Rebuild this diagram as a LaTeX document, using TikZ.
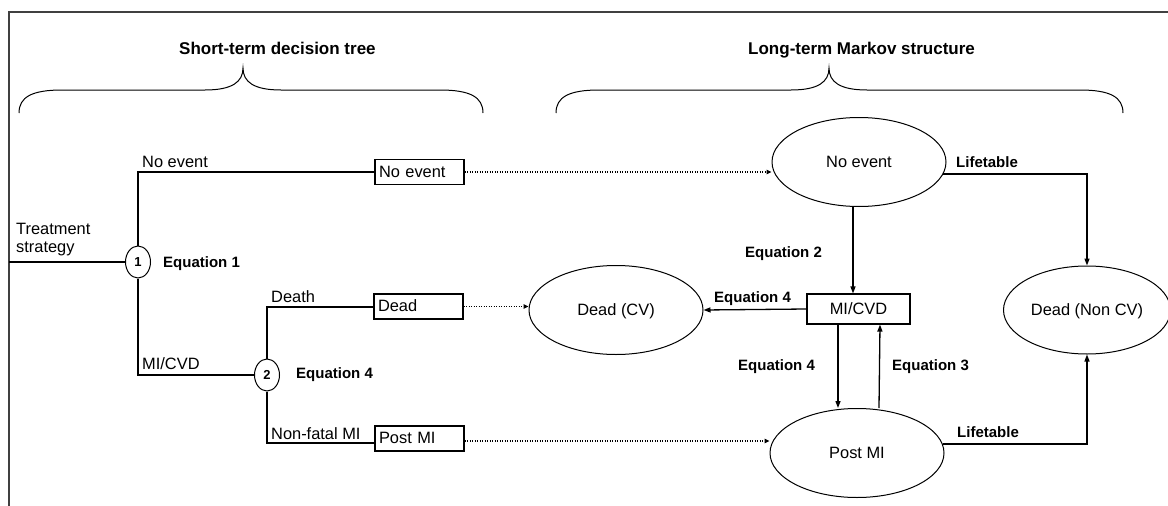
\documentclass[tikz,border=0pt]{standalone}
\usepackage{fontspec}
\setmainfont{Liberation Sans}
\usetikzlibrary{arrows.meta,shapes.geometric}
\begin{document}
\begin{tikzpicture}[x=1pt,y=-1pt,
  txt/.style={font=\fontsize{16.4}{18}\selectfont, inner sep=0pt},
  tlabel/.style={txt, anchor=base west},
  lbl/.style={font=\fontsize{15}{17}\selectfont\bfseries, inner sep=0pt, anchor=base west},
  head/.style={font=\fontsize{17}{20}\selectfont\bfseries, inner sep=0pt, anchor=base west},
  chance/.style={ellipse, draw, line width=1pt, minimum width=25pt, minimum height=32pt, inner sep=0pt, font=\fontsize{13}{14}\selectfont\bfseries},
  endbox/.style={draw, line width=1.1pt, txt, text width=81pt, align=left, inner xsep=4pt, inner ysep=0pt, minimum height=25pt, text height=11.7pt, text depth=1pt},
  state/.style={ellipse, draw, line width=1pt, minimum width=174pt, minimum height=89pt, inner sep=0pt, txt, text height=11.7pt, text depth=0pt},
  statebox/.style={draw, line width=1.1pt, minimum width=103pt, minimum height=30pt, inner sep=0pt, txt, text height=11.7pt, text depth=0pt},
  branch/.style={line width=2pt},
  arr/.style={line width=1.3pt, -{Triangle[length=7pt,width=5pt]}},
  dots/.style={line width=1.2pt, dash pattern=on 1.2pt off 1.3pt, -{Triangle[length=5pt,width=4.5pt,sep=0pt]}},
  brace/.style={line width=1pt},
]
\useasboundingbox (0,0) rectangle (1168,506);
% frame
\draw[line width=1.6pt, black!75] (1172,12) -- (9,12) -- (9,510);

% headings and braces
\node[head] (h1) at (179,54) {Short-term decision tree};
\node[head] (h2) at (748,54) {Long-term Markov structure};
\draw[brace] (19,113) .. controls (19,97) and (32,90) .. (62,90) -- (205,90)
  .. controls (232,90) and (243,82) .. (243,68)
  .. controls (243,82) and (254,90) .. (281,90) -- (440,90)
  .. controls (470,90) and (483,97) .. (483,113);
\draw[brace] (556,113) .. controls (556,97) and (569,90) .. (599,90) -- (791,90)
  .. controls (818,90) and (829,82) .. (829,68)
  .. controls (829,82) and (840,90) .. (867,90) -- (1080,90)
  .. controls (1110,90) and (1123,97) .. (1123,113);

% decision tree
\node[txt, anchor=north west, align=left] (treat) at (16,223) {Treatment\\strategy};
\coordinate (start) at (9,262);
\node[chance] (c1) at (138,262) {1};
\node[chance] (c2) at (267,375) {2};
\node[endbox] (nebox) at (419.5,172) {No event};
\node[endbox] (deadbox) at (418.5,306.5) {Dead};
\node[endbox] (pmbox) at (419.5,438.5) {Post MI};

\draw[branch] (start) -- (c1.west);
\draw[branch] (c1.north) |- (nebox.west);
\draw[branch] (c1.south) |- (c2.west);
\draw[branch] (c2.north) |- (deadbox.west);
\draw[branch] (c2.south) |- ([yshift=-4.5pt]pmbox.west);

\node[tlabel] (lne) at (142,167) {No event};
\node[tlabel] (lmi) at (142,369) {MI/CVD};
\node[tlabel] (ldeath) at (271,302) {Death};
\node[tlabel] (lnf) at (271,439) {Non-fatal MI};
\node[lbl] (eq1) at (163,267) {Equation 1};
\node[lbl] (eq4a) at (296,378) {Equation 4};

% Markov structure
\node[state] (ne) at (859,162) {No event};
\node[state] (dcv) at (616,310) {Dead (CV)};
\node[statebox] (mi) at (858.5,309) {MI/CVD};
\node[state] (pm) at (857,453) {Post MI};
\node[state, minimum width=167pt, minimum height=88pt] (dn) at (1087,310) {Dead (Non CV)};

\draw[dots] (nebox.east) -- (nebox.east -| ne.west);
\draw[dots] (deadbox.east) -- (deadbox.east -| dcv.west);
\draw[dots] ([yshift=-2.5pt]pmbox.east) -- ([yshift=-2.5pt]pmbox.east -| pm.west);

\draw[arr] ([xshift=-6pt]ne.south) -- ([xshift=-5.5pt]mi.north);
\draw[arr] (mi.west) -- (dcv.east);
\draw[arr] ([xshift=-20.5pt]mi.south) -- ([xshift=-19pt]pm.north);
\draw[arr] ([xshift=22pt]pm.north) -- ([xshift=21.5pt]mi.south);
\draw[arr] (ne.-8) -| (dn.north);
\draw[arr] (pm.6) -| (dn.south);

\node[lbl] (eq2) at (745,257) {Equation 2};
\node[lbl] (eq4b) at (714,302) {Equation 4};
\node[lbl] (eq4c) at (738,370) {Equation 4};
\node[lbl] (eq3) at (892,370) {Equation 3};
\node[lbl] (lt1) at (956,167) {Lifetable};
\node[lbl] (lt2) at (957,437) {Lifetable};
\end{tikzpicture}
\end{document}
